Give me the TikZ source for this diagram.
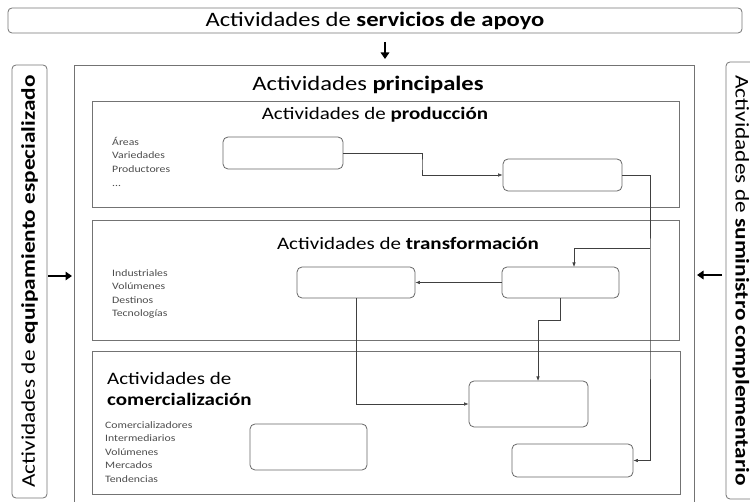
\documentclass[tikz,border=0pt]{standalone}
\usepackage{fontspec}
\setmainfont{Carlito}[FakeStretch=1.2]
\usetikzlibrary{arrows.meta}

\begin{document}
\begin{tikzpicture}[
        x=1pt, y=-1pt, % coordenadas en pixeles, origen arriba a la izquierda
        frame/.style = {draw=black!55, line width=0.8pt},
        sidebox/.style = {draw=black!55, line width=0.8pt, rounded corners=4pt, inner sep=0pt},
        cell/.style = {draw=black!60, line width=0.8pt, rounded corners=5pt, inner sep=0pt, minimum width=118pt, minimum height=32pt}, % cajas vacias
        link/.style = {draw=black!75, line width=0.6pt, -{Latex[length=4.5pt,width=3.5pt]}},
        bigarrow/.style = {line width=2pt, -{Triangle[length=6.5pt,width=8.5pt]}},
        bigtitle/.style = {font=\fontsize{20.5}{24}\selectfont},
        sidetitle/.style = {font=\fontsize{19.4}{23}\selectfont},
        title/.style = {font=\fontsize{17.5}{21}\selectfont, inner sep=0pt},
        list/.style = {font=\fontsize{9.8}{13.6}\selectfont, text=black!70, align=left, inner sep=0pt, anchor=north west},
    ]
    \clip (0,0) rectangle (750,502);

    % bloques exteriores
    \node[sidebox, minimum width=734pt, minimum height=25pt, bigtitle] (apoyo) at (375,20.5) {Actividades de \textbf{servicios de apoyo}};
    \node[sidebox, rotate=90, minimum width=433pt, minimum height=35pt, sidetitle] (equipo) at (29.5,281.5) {Actividades de \textbf{equipamiento especializado}};
    \node[sidebox, rotate=-90, minimum width=437pt, minimum height=30pt, sidetitle] (suministro) at (741,280.5) {Actividades de \textbf{suministro complementario}};

    \coordinate (s1) at (385,42);
    \coordinate (s2) at (385,59);
    \coordinate (e1) at (48,276);
    \coordinate (e2) at (72,276);
    \coordinate (m1) at (722,275);
    \coordinate (m2) at (697,275);
    \draw[bigarrow] (s1) -- (s2);
    \draw[bigarrow] (e1) -- (e2);
    \draw[bigarrow] (m1) -- (m2);

    % actividades principales
    \draw[frame] (74,65) rectangle (694,515);
    \node[bigtitle] (principal) at (368,85) {Actividades \textbf{principales}};

    \draw[frame] (92,101) rectangle (679,207);
    \draw[frame] (92,220) rectangle (679,340);
    \draw[frame] (92,351) rectangle (680,494);

    % produccion
    \node[title] (produccion) at (375,115) {Actividades de \textbf{producción}};
    \node[list] (prodlista) at (112,137) {Áreas\\Variedades\\Productores\\...};
    \node[cell, minimum width=120pt] (P1) at (283,153) {};
    \node[cell, minimum width=119pt] (P2) at (562.5,175) {};

    % transformacion
    \node[title] (transformacion) at (408,243) {Actividades de \textbf{transformación}};
    \node[list] (translista) at (112,269) {Industriales\\Volúmenes\\Destinos\\Tecnologías};
    \node[cell, minimum height=31pt] (T1) at (356,282.5) {};
    \node[cell, minimum width=117pt, minimum height=31pt] (T2) at (560.5,282.5) {};

    % comercializacion
    \node[title, anchor=north west, align=left] (comercial) at (107,372) {Actividades de\\\textbf{comercialización}};
    \node[list] (comlista) at (105,421) {Comercializadores\\Intermediarios\\Volúmenes\\Mercados\\Tendencias};
    \node[cell, minimum width=117pt, minimum height=46pt] (C1) at (308.5,447) {};
    \node[cell, minimum width=119pt, minimum height=46pt] (C2) at (528.5,404) {};
    \node[cell, minimum width=121pt, minimum height=33pt] (C3) at (572.5,460.5) {};

    % conexiones
    \coordinate (k1) at (422,165);
    \coordinate (k2) at (650,300);
    \coordinate (k3) at (650,248);
    \coordinate (t2in) at (574,267);
    \coordinate (k4) at (538,320);
    \coordinate (c2in) at (538,381);
    \draw[link] (P1.east) -| (k1) |- (P2.west);
    \draw[link] (P2.east) -| (k2) |- (C3.east);
    \draw[link] (k3) -| (t2in);
    \draw[link] (T2.west) -- (T1.east);
    \draw[link] (T1.south) |- (C2.west);
    \draw[link] (T2.south) |- (k4) -- (c2in);

\end{tikzpicture}
\end{document}
